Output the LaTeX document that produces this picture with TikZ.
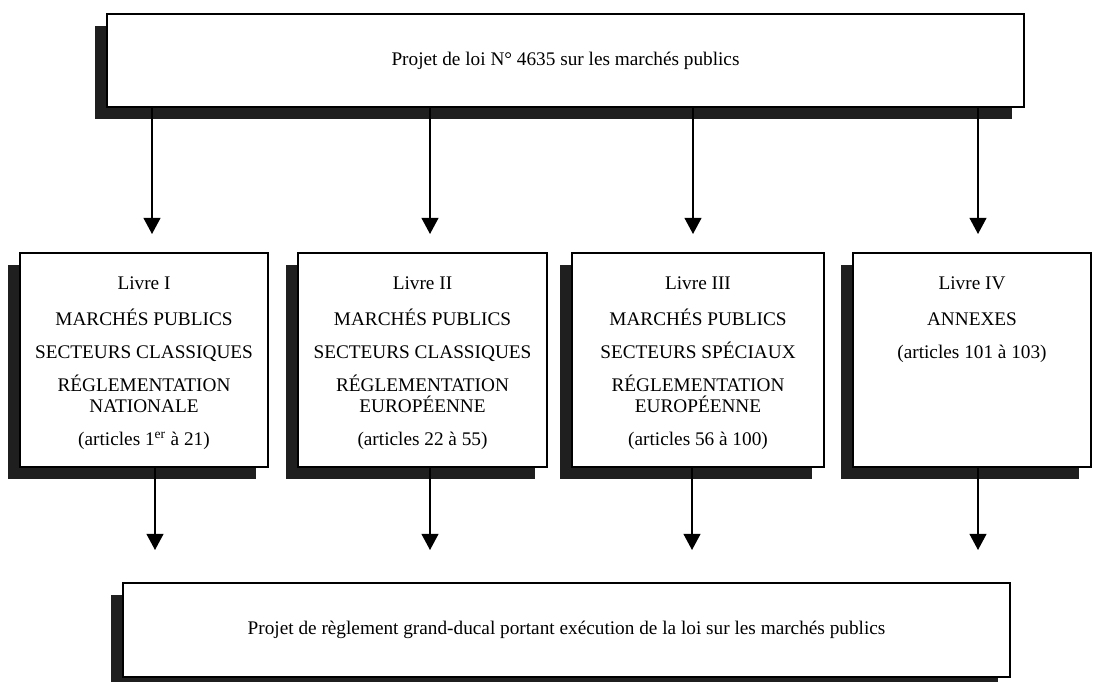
\documentclass[tikz,border=0pt]{standalone}
\usepackage{fontspec}
\setmainfont{Liberation Serif}
\usetikzlibrary{arrows.meta,shadows}

\begin{document}
\begin{tikzpicture}[x=0.025cm, y=-0.025cm,
  box/.style={draw, rectangle, line width=1.2pt, fill=white, inner sep=0pt, font=\fontsize{13.7}{15.5}\selectfont, drop shadow={shadow xshift=-0.3cm, shadow yshift=-0.3cm, fill=black!88, opacity=1}},
  txt/.style={align=center, inner sep=0pt, font=\fontsize{13.7}{15.5}\selectfont},
  arr/.style={-{Triangle[width=0.42cm,length=0.4cm]}, line width=1pt}]
\useasboundingbox[fill=white] (0,0) rectangle (1093,682);

\node[box, minimum width=22.925cm, minimum height=2.325cm] (loi) at (565.5,60.5) {\raisebox{2pt}{Projet de loi N° 4635 sur les marchés publics}};

\node[box, minimum width=6.2cm, minimum height=5.35cm] (livre1) at (144,360) {};
\node[box, minimum width=6.225cm, minimum height=5.35cm] (livre2) at (422.5,360) {};
\node[box, minimum width=6.3cm, minimum height=5.35cm] (livre3) at (698,360) {};
\node[box, minimum width=5.95cm, minimum height=5.35cm] (livre4) at (972,360) {};

\node[txt, anchor=north] (txt1) at ([yshift=-0.6cm] livre1.north) {Livre I\\[10pt] MARCHÉS PUBLICS\\[8pt] SECTEURS CLASSIQUES\\[8pt] RÉGLEMENTATION\\ NATIONALE\\[8pt] (articles 1\textsuperscript{er} à 21)};
\node[txt, anchor=north] (txt2) at ([yshift=-0.6cm] livre2.north) {Livre II\\[10pt] MARCHÉS PUBLICS\\[8pt] SECTEURS CLASSIQUES\\[8pt] RÉGLEMENTATION\\ EUROPÉENNE\\[8pt] (articles 22 à 55)};
\node[txt, anchor=north] (txt3) at ([yshift=-0.6cm] livre3.north) {Livre III\\[10pt] MARCHÉS PUBLICS\\[8pt] SECTEURS SPÉCIAUX\\[8pt] RÉGLEMENTATION\\ EUROPÉENNE\\[8pt] (articles 56 à 100)};
\node[txt, anchor=north] (txt4) at ([yshift=-0.6cm] livre4.north) {Livre IV\\[10pt] ANNEXES\\[8pt] (articles 101 à 103)};

\node[box, minimum width=22.175cm, minimum height=2.35cm] (rgd) at (566.5,630) {Projet de règlement grand-ducal portant exécution de la loi sur les marchés publics};

\coordinate (t1) at (152,234);
\coordinate (t2) at (430,234);
\coordinate (t3) at (693,234);
\coordinate (t4) at (978,234);
\coordinate (u1) at (155,550);
\coordinate (u2) at (430,550);
\coordinate (u3) at (692,550);
\coordinate (u4) at (978,550);

\draw[arr] (loi.south -| t1) -- (t1);
\draw[arr] (loi.south -| t2) -- (t2);
\draw[arr] (loi.south -| t3) -- (t3);
\draw[arr] (loi.south -| t4) -- (t4);
\draw[arr] (livre1.south -| u1) -- (u1);
\draw[arr] (livre2.south -| u2) -- (u2);
\draw[arr] (livre3.south -| u3) -- (u3);
\draw[arr] (livre4.south -| u4) -- (u4);
\end{tikzpicture}
\end{document}
